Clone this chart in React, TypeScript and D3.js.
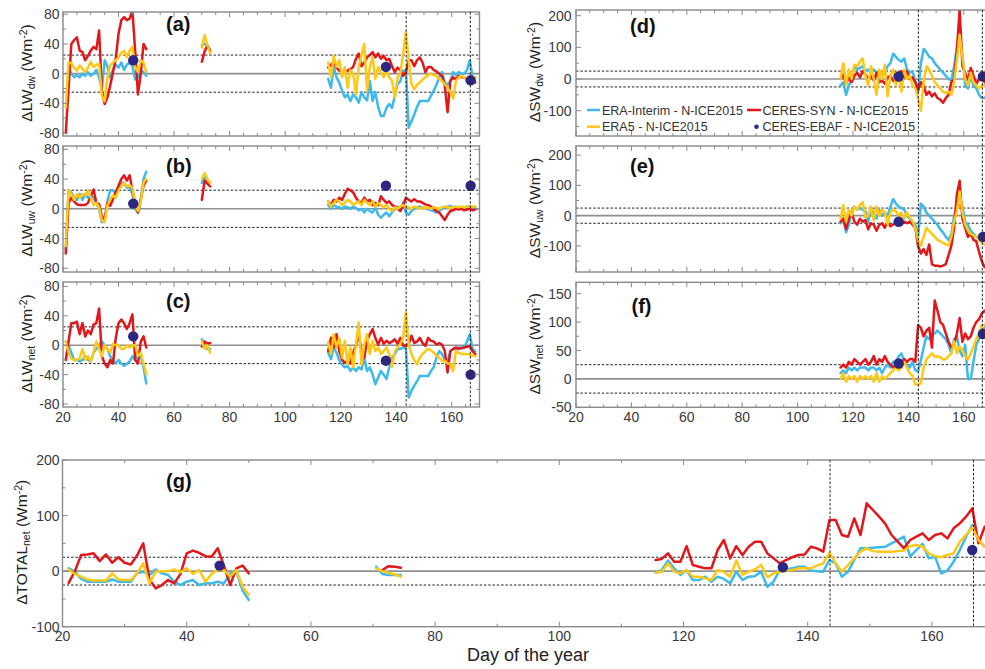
import React from "react";
import * as d3 from "d3";

// ---------- x categories (day of year) ----------
const DAYS_S1 = [21, 22, 23, 24, 25, 26, 27, 28, 29, 30, 31, 32, 33, 34, 35, 36, 37, 38, 39, 40, 41, 42, 43, 44, 45, 46, 47, 48, 49, 50];
const DAYS_S2 = [70, 71, 72, 73];
const DAYS_S3 = [115.5, 116.5, 117.5, 118.5, 119.5, 120.5, 121.5, 122.5, 123.5, 124.5, 125.5, 126.5, 127.5, 128.5, 129.5, 130.5, 131.5, 132.5, 133.5, 134.5, 135.5, 136.5, 137.5, 138.5, 139.5, 140.5, 141.5, 142.5, 143.5, 144.5, 145.5, 146.5, 147.5, 148.5, 149.5, 150.5, 151.5, 152.5, 153.5, 154.5, 155.5, 156.5, 157.5, 158.5, 159.5, 160.5, 161.5, 162.5, 163.5, 164.5, 165.5, 166.5, 167.5, 168.5];
const DAYS_G2 = [70.5, 71.5, 72.5, 73.5, 74.5];
const EBAF_DAYS_LW = [45.3, 136.3, 166.8];
const EBAF_DAYS_SW = [136.5, 166.9];
const EBAF_DAYS_G = [45.3, 136.0, 166.5];
const MARK_DAYS = [143.6, 166.7];

// ---------- (a) LW downwelling ----------
const A_ERAI_1 = [null, 8, 0, -5, -2, -5, 0, -3, 2, -3, 0, 5, -5, -20, 18, 10, -5, 5, 12, 8, 15, 5, 12, 15, 10, -8, -5, 5, 2, -3];
const A_ERA5_1 = [-46, 15, 14, 8, 4, 11, 6, 2, 8, 16, 9, 12, 13, -30, -37, -5, 11, 15, 18, 22, 28, 31, 22, 31, 36, 9, 2, 18, 15, 2];
const A_SYN_1 = [-80, -20, 40, 45, 49, 31, 29, 18, 24, 31, 36, 33, 58, -23, -41, -32, -16, 2, 20, 54, 72, 76, 72, 74, 85, 30, -28, 0, 40, 33];
const A_ERAI_2 = [38, 40, 38, 32];
const A_ERA5_2 = [35, 52, 38, 28];
const A_SYN_2 = [16, 30, 38, 30];
const A_ERAI_3 = [-7, -19, 9, -5, -12, -23, -32, -28, -37, -28, -32, -39, -25, -32, -36, -10, -37, -25, -45, -57, -57, -46, -41, -46, -30, -14, -10, 4, 4, -73, -64, -55, -45, -37, -37, -37, -37, -30, -23, -15, -5, 2, -12, -15, -10, 2, -2, 2, 0, 0, 5, 18, -5, -5];
const A_ERA5_3 = [15, -5, 24, 9, 18, -5, 9, -19, 5, 0, -28, 9, 25, 40, -23, 9, 22, -7, 9, 2, -5, 4, -5, -10, -32, -5, 0, 27, 56, 18, -14, -21, -15, -12, -8, -5, -2, 0, -2, -3, -7, -10, -14, -19, -25, -34, -10, -5, -3, -5, -8, -6, -5, -5];
const A_SYN_3 = [8, 12, 15, 8, 4, 2, 2, 4, 6, 9, 20, 27, 10, 15, 22, 25, 29, 22, 27, 20, 24, 18, 20, 10, 2, 8, 5, -3, 2, 18, 18, 10, 18, 22, 15, 2, 9, 9, 5, 3, 0, -3, -16, -52, -10, -5, -8, -3, -5, -5, -8, -5, -5, -12];
const A_EBAF = [18, 9, -9];

// ---------- (b) LW upwelling ----------
const B_ERAI_1 = [-55, 25, 22, 15, 12, 20, 12, 20, 15, 18, 15, 8, 0, -18, -15, 10, 25, 25, 20, 30, 35, 35, 28, 30, 20, 0, -5, 10, 40, 50];
const B_ERA5_1 = [-50, 25, 20, 12, 20, 15, 20, 18, 25, 15, 5, 8, 2, -15, -18, 5, 12, 18, 15, 25, 30, 35, 30, 32, 28, 5, -3, 10, 35, 40];
const B_SYN_1 = [-60, 8, 15, 10, 6, 5, 5, 5, 8, 17, 26, 8, 6, -10, -15, 8, 4, 13, 22, 31, 40, 45, 38, 45, 24, 8, -5, 13, 31, 38];
const B_ERAI_2 = [35, 45, 38, 35];
const B_ERA5_2 = [40, 48, 40, 35];
const B_SYN_2 = [12, 38, 34, 30];
const B_ERAI_3 = [5, 0, 5, 3, 2, 0, 3, 2, 0, 3, 1, -2, 0, -5, 0, -3, -5, 2, -8, -12, -8, -5, -10, -5, 0, 3, -2, 8, -5, -8, -3, 0, 2, 3, 2, 1, 0, -2, -3, -5, -3, 0, 2, 3, 4, 2, 3, 2, 0, 2, 3, 3, 2, 2];
const B_ERA5_3 = [10, 3, 8, 12, 10, 5, 8, 12, 10, 5, 8, 10, 5, 12, 8, 5, 10, 3, 8, 5, 2, 5, 0, -3, 2, 0, 3, 5, 3, 2, 0, 3, 2, 0, 2, 1, 2, 0, 2, 1, 0, 2, 3, 2, 1, 2, 3, 2, 3, 2, 3, 3, 3, 3];
const B_SYN_3 = [10, 5, 12, 10, 15, 12, 20, 27, 25, 22, 15, 10, 8, 15, 10, 12, 5, 8, 5, 17, 12, 8, 10, 5, 3, 0, -3, 5, 15, 12, 10, 13, 10, 10, 8, 6, 5, 3, 0, -3, -5, -10, -15, -8, -3, -2, 0, -1, 0, -2, -1, 0, -2, -1];
const B_EBAF = [7, 31, 31];

// ---------- (c) LW net ----------
const C_ERAI_1 = [5, 0, -10, -20, -20, -22, -20, -15, -20, -22, -10, -5, 0, 5, 0, -5, -15, -20, -25, -20, -25, -28, -25, -22, -15, -20, -10, -15, -30, -52];
const C_ERA5_1 = [5, -10, -18, -20, -20, -18, -5, -20, -15, -22, -10, 5, -5, -15, 0, -5, -10, 2, 0, 0, -5, -5, 0, -3, 0, 0, -15, -10, -25, -40];
const C_SYN_1 = [-20, 5, 30, 30, 32, 15, 30, 12, 20, 15, 28, 30, 50, -15, -25, -30, -20, -25, 10, 30, 35, 30, 22, 30, 42, -20, -25, 5, 12, -3];
const C_ERAI_2 = [8, 0, -5, -5];
const C_ERA5_2 = [5, -5, 0, -10];
const C_SYN_2 = [-2, 5, 2, 3];
const C_ERAI_3 = [-10, -19, -3, -10, -21, -26, -30, -28, -35, -30, -35, -30, -33, -17, -35, -30, -40, -53, -44, -35, -40, -46, -30, -17, -12, -5, -5, -3, -5, -71, -62, -55, -49, -42, -42, -42, -42, -35, -30, -17, -8, -12, -20, -24, -8, -5, -5, -3, -3, -3, 5, 15, -5, -8];
const C_ERA5_3 = [4, -12, 15, -3, 10, -17, 6, -26, -3, -30, 1, 31, -26, 1, 15, -12, 6, -8, -3, -12, -8, -3, -12, -30, -8, -3, 2, 10, 45, 1, -12, -20, -26, -17, -12, -8, -5, -7, -10, -14, -17, -21, -21, -25, -25, -35, -8, -10, -12, -12, -12, -13, -14, -15];
const C_SYN_3 = [-8, 10, -3, 15, -8, -20, -24, -21, -25, -10, 0, 15, -8, -17, 6, 15, 22, 10, 1, 10, 2, 6, 3, 5, 8, 2, 10, 0, -1, 2, 13, 3, 5, 10, 3, -1, 10, 6, 5, 1, 3, 1, -8, -37, -8, -5, -3, -5, -4, -3, -2, -1, -8, -12];
const C_EBAF = [12, -21, -40];

// ---------- (d) SW downwelling ----------
const D_ERAI_3 = [-20, -10, -50, -20, 0, 40, 30, 35, 40, 25, 30, 20, 30, 20, 25, 10, 20, 40, 50, 80, 70, 60, 55, 65, 30, 20, 25, -10, -40, 50, 95, 85, 70, 65, 50, 40, 30, 20, 10, 0, -5, 40, 100, 150, 80, -20, -30, 10, -20, -30, -50, -60, -60, -50];
const D_ERA5_3 = [0, 50, -20, 30, 0, 45, 40, 55, 65, 10, -20, 40, 0, -50, 30, 0, 45, -55, 10, 30, -20, 15, -40, 30, 0, 10, -20, -30, -60, -100, -10, 40, 30, 10, -10, -20, -30, -40, -45, -40, -50, -10, 60, 140, 70, 0, -20, 20, -10, -20, -30, -20, -20, -10];
const D_SYN_3 = [0, 15, -15, 5, -10, 10, 20, 5, 25, 15, 0, 10, -5, 20, -10, -5, -15, 5, 10, -5, -10, 20, 25, 5, 25, 0, 5, -10, -35, -10, -20, -50, -40, -55, -45, -60, -65, -75, -60, -50, -10, 0, 90, 220, 40, 20, -5, 35, 10, -15, 0, 5, -10, -20];
const D_EBAF = [8, 8];

// ---------- (e) SW upwelling ----------
const E_ERAI_3 = [-25, -10, -55, -30, 10, 30, 20, 25, 20, 15, -20, 25, 10, -10, 20, 0, 10, 0, 30, 55, 40, 30, 25, 20, 0, -10, -20, -30, -70, 40, 30, 10, 0, -10, -20, -30, -45, -55, -70, -80, -60, 0, 30, 35, 30, -20, -30, -50, -60, -70, -80, -80, -80, -80];
const E_ERA5_3 = [-10, 35, -20, 20, 0, 30, 20, 35, 45, -5, 0, 30, -15, 30, 0, 20, 10, -30, 10, 20, 15, 0, 10, -10, 10, -5, -20, -40, -80, -100, -70, -40, -50, -60, -70, -80, -85, -90, -95, -98, -70, -20, 15, 80, 10, -30, -50, -60, -65, -70, -80, -90, -95, -100];
const E_SYN_3 = [-20, -10, -45, -10, 10, -20, -30, -10, -20, -15, -45, -25, -30, -50, -30, -25, -40, -20, -35, -30, -20, -10, -30, -20, -25, -20, -30, -40, -100, -125, -110, -130, -95, -160, -165, -165, -168, -165, -160, -130, -100, -40, 70, 115, -10, -40, -70, -60, -80, -85, -120, -150, -170, -170];
const E_EBAF = [-20, -70];

// ---------- (f) SW net ----------
const F_ERAI_3 = [10, 15, 10, 20, 15, 20, 15, 20, 20, 20, 15, 20, 20, 15, 20, 10, 20, 25, 20, 30, 30, 40, 45, 30, 25, 20, 30, 15, 13, 33, 55, 75, 70, 80, 80, 85, 80, 75, 70, 60, 45, 70, 75, 50, 40, 60, 0, 0, 30, 60, 70, 85, 90, 95];
const F_ERA5_3 = [0, 10, -5, 5, 0, 5, -5, 5, 0, 5, 0, 5, -5, 10, -5, 5, 0, 5, 10, 15, 20, 15, 20, 30, 20, 10, 5, -10, -10, -8, 20, 34, 40, 45, 39, 40, 38, 34, 35, 40, 45, 66, 45, 57, 50, 40, 34, 45, 57, 70, 80, 95, 95, 100];
const F_SYN_3 = [20, 25, 20, 30, 25, 35, 30, 25, 30, 35, 25, 30, 40, 25, 35, 30, 40, 30, 25, 20, 25, 30, 20, 35, 30, 35, 35, 30, 95, 90, 75, 85, 90, 55, 138, 120, 100, 95, 80, 65, 55, 60, 80, 107, 65, 80, 70, 75, 90, 100, 105, 115, 120, 115];
const F_EBAF = [27, 79];

// ---------- (g) TOTAL net ----------
const G_ERAI_1 = [5, -1, -14, -19, -19, -19, -19, -15, -19, -19, -19, -4, -1, -7, 3, -4, -7, -19, -25, -19, -16, -25, -22, -22, -19, -22, -4, -1, -35, -52];
const G_ERA5_1 = [3, -5, -10, -15, -17, -17, -17, -4, -15, -16, -16, -4, 14, -22, -1, 0, 0, 3, -2, 5, -5, 2, -19, -5, 2, 2, -10, 2, -28, -43];
const G_SYN_1 = [-21, 0, 29, 30, 32, 18, 30, 15, 25, 15, 12, 28, 50, -15, -31, -25, -16, -22, -5, 32, 37, 33, 27, 26, 41, 10, -25, 5, 10, -4];
const G_ERAI_2 = [8, -5, -7, -7, -7];
const G_ERA5_2 = [5, 0, -3, -6, -10];
const G_SYN_2 = [null, 2, 9, 8, 6];
const G_ERAI_3 = [-3, 2, 19, 5, -7, 2, -16, -16, -10, -19, -10, -14, -22, -1, -16, -10, -9, -1, -28, -19, 2, 3, 5, 8, 8, 1, 0, -1, 20, 14, -10, -1, 20, 41, 41, 42, 43, 44, 50, 56, 62, 26, 38, 49, 23, 26, -4, 1, 17, 38, 62, 83, 56, 44];
const G_ERA5_3 = [-3, -1, 14, -1, -4, 2, -10, -10, -13, -16, 2, -1, -10, 19, -7, -1, 3, 11, -11, -4, -1, 1, 2, 5, 5, 5, 10, 14, 33, 14, -1, 11, 23, 35, 41, 36, 35, 35, 35, 36, 37, 45, 47, 44, 32, 27, 25, 29, 32, 53, 65, 79, 56, 44];
const G_SYN_3 = [20, 22, 32, 17, 17, 45, 11, 8, 5, 5, 38, 56, 23, 45, 29, 44, 53, 53, 32, 23, 14, 20, 25, 29, 30, 44, 41, 35, 92, 92, 65, 62, 95, 65, 122, 110, 98, 85, 65, 53, 41, 56, 62, 68, 56, 65, 68, 59, 77, 86, 98, 113, 50, 80];
const G_EBAF = [10, 7, 38];

// ---------- legend / labels ----------
const LEGEND_LABELS = ["ERA-Interim - N-ICE2015", "CERES-SYN - N-ICE2015", "ERA5 - N-ICE2015", "CERES-EBAF - N-ICE2015"];
const X_TICK_LABELS = [20, 40, 60, 80, 100, 120, 140, 160];

const FONT = "'Liberation Sans', Arial, Helvetica, sans-serif";
const COL_ERAI = "#3DB9EA";
const COL_ERA5 = "#FFC815";
const COL_SYN = "#E3171B";
const COL_EBAF = "#2E2683";

type Seg = { days: number[]; vals: (number | null)[] };
interface PanelSpec {
  key: string;
  x0: number; x1: number; y0: number; y1: number;
  dom: [number, number];
  major: number[]; minor: number[];
  xStep: number; showX: boolean; xLabelY: number; yLabelX: number;
  label: string; lx: number; ly: number;
  tMain: string; tSub: string; tx: number;
  erai: Seg[]; era5: Seg[]; syn: Seg[];
  ebafDays: number[]; ebaf: number[];
}

const segs = (a: (number | null)[] | null, b: (number | null)[] | null, c: (number | null)[]): Seg[] => {
  const out: Seg[] = [];
  if (a) out.push({ days: DAYS_S1, vals: a });
  if (b) out.push({ days: DAYS_S2, vals: b });
  out.push({ days: DAYS_S3, vals: c });
  return out;
};

function Panel({ p }: { p: PanelSpec }) {
  const x = d3.scaleLinear().domain([20, 170]).range([p.x0, p.x1]);
  const y = d3.scaleLinear().domain(p.dom).range([p.y1, p.y0]);
  const line = d3
    .line<[number, number | null]>()
    .defined((d) => d[1] !== null && d[1] !== undefined)
    .x((d) => x(d[0]))
    .y((d) => y(d[1] as number));
  const clipId = `clip-${p.key}`;
  const xt = d3.range(20, 170.01, p.xStep);
  const draw = (s: Seg[], color: string) =>
    s.map((seg, i) => (
      <path
        key={i}
        d={line(seg.days.map((d, j) => [d, seg.vals[j]] as [number, number | null])) || ""}
        fill="none"
        stroke={color}
        strokeWidth={2.5}
        strokeLinejoin="round"
        strokeLinecap="round"
      />
    ));
  const frame = "#8a8a8a";
  return (
    <g>
      <defs>
        <clipPath id={clipId}>
          <rect x={p.x0} y={p.y0} width={p.x1 - p.x0} height={p.y1 - p.y0} />
        </clipPath>
      </defs>
      <line x1={p.x0} x2={p.x1} y1={y(0)} y2={y(0)} stroke="#909090" strokeWidth={1.6} />
      {[25, -25].map((v) => (
        <line key={v} x1={p.x0} x2={p.x1} y1={y(v)} y2={y(v)} stroke="#222" strokeWidth={1} strokeDasharray="2.5,1.8" />
      ))}
      <g clipPath={`url(#${clipId})`}>
        {draw(p.erai, COL_ERAI)}
        {draw(p.syn, COL_SYN)}
        {draw(p.era5, COL_ERA5)}
        {p.ebafDays.map((d, i) => (
          <circle key={i} cx={x(d)} cy={y(p.ebaf[i])} r={5.2} fill={COL_EBAF} />
        ))}
      </g>
      <rect x={p.x0} y={p.y0} width={p.x1 - p.x0} height={p.y1 - p.y0} fill="none" stroke={frame} strokeWidth={1.4} />
      {xt.map((t) => {
        const len = t % 20 === 0 ? 5 : 3;
        return (
          <g key={t}>
            <line x1={x(t)} x2={x(t)} y1={p.y0} y2={p.y0 + len} stroke={frame} strokeWidth={1} />
            <line x1={x(t)} x2={x(t)} y1={p.y1} y2={p.y1 - len} stroke={frame} strokeWidth={1} />
          </g>
        );
      })}
      {p.major.map((v) => (
        <g key={"M" + v}>
          <line x1={p.x0} x2={p.x0 + 5} y1={y(v)} y2={y(v)} stroke={frame} strokeWidth={1} />
          <line x1={p.x1} x2={p.x1 - 5} y1={y(v)} y2={y(v)} stroke={frame} strokeWidth={1} />
          <text x={p.yLabelX} y={y(v)} dy="0.36em" textAnchor="end" fontSize={14} fill="#3a3a3a">
            {v}
          </text>
        </g>
      ))}
      {p.minor.map((v) => (
        <g key={"m" + v}>
          <line x1={p.x0} x2={p.x0 + 3} y1={y(v)} y2={y(v)} stroke={frame} strokeWidth={1} />
          <line x1={p.x1} x2={p.x1 - 3} y1={y(v)} y2={y(v)} stroke={frame} strokeWidth={1} />
        </g>
      ))}
      {p.showX &&
        X_TICK_LABELS.map((t) => (
          <text key={"xl" + t} x={x(t)} y={p.xLabelY} textAnchor="middle" fontSize={14} fill="#3a3a3a">
            {t}
          </text>
        ))}
      <text x={p.lx} y={p.ly} fontSize={20} fontWeight="bold" fill="#111">
        {p.label}
      </text>
      <text
        transform={`translate(${p.tx},${(p.y0 + p.y1) / 2 - 1}) rotate(-90)`}
        textAnchor="middle"
        fontSize={15.5}
        fill="#222"
      >
        <tspan>{"\u0394" + p.tMain}</tspan>
        <tspan fontSize={10.5} dy={3}>
          {p.tSub}
        </tspan>
        <tspan dy={-3}>{" (Wm"}</tspan>
        <tspan fontSize={10.5} dy={-5}>
          -2
        </tspan>
        <tspan dy={5}>)</tspan>
      </text>
    </g>
  );
}

export default function App() {
  const LX0 = 63, LX1 = 479.5;
  const RX0 = 576, RX1 = 991.5;
  const GX0 = 62.5, GX1 = 994;
  const lwMajor = [80, 40, 0, -40, -80];
  const lwMinor = [60, 20, -20, -60];
  const swMajor = [200, 100, 0, -100];
  const swMinor = [150, 50, -50, -150];

  const panels: PanelSpec[] = [
    {
      key: "a", x0: LX0, x1: LX1, y0: 12, y1: 136, dom: [-84, 83], major: lwMajor, minor: lwMinor,
      xStep: 5, showX: false, xLabelY: 0, yLabelX: 59.5, label: "(a)", lx: 166, ly: 31,
      tMain: "LW", tSub: "dw", tx: 32,
      erai: segs(A_ERAI_1, A_ERAI_2, A_ERAI_3), era5: segs(A_ERA5_1, A_ERA5_2, A_ERA5_3), syn: segs(A_SYN_1, A_SYN_2, A_SYN_3),
      ebafDays: EBAF_DAYS_LW, ebaf: A_EBAF,
    },
    {
      key: "b", x0: LX0, x1: LX1, y0: 146, y1: 272, dom: [-85, 84.5], major: lwMajor, minor: lwMinor,
      xStep: 5, showX: false, xLabelY: 0, yLabelX: 59.5, label: "(b)", lx: 166, ly: 173,
      tMain: "LW", tSub: "uw", tx: 32,
      erai: segs(B_ERAI_1, B_ERAI_2, B_ERAI_3), era5: segs(B_ERA5_1, B_ERA5_2, B_ERA5_3), syn: segs(B_SYN_1, B_SYN_2, B_SYN_3),
      ebafDays: EBAF_DAYS_LW, ebaf: B_EBAF,
    },
    {
      key: "c", x0: LX0, x1: LX1, y0: 282, y1: 407, dom: [-84, 86], major: lwMajor, minor: lwMinor,
      xStep: 5, showX: true, xLabelY: 421.5, yLabelX: 59.5, label: "(c)", lx: 166, ly: 308,
      tMain: "LW", tSub: "net", tx: 32,
      erai: segs(C_ERAI_1, C_ERAI_2, C_ERAI_3), era5: segs(C_ERA5_1, C_ERA5_2, C_ERA5_3), syn: segs(C_SYN_1, C_SYN_2, C_SYN_3),
      ebafDays: EBAF_DAYS_LW, ebaf: C_EBAF,
    },
    {
      key: "d", x0: RX0, x1: RX1, y0: 10, y1: 136, dom: [-180, 218], major: swMajor, minor: swMinor,
      xStep: 5, showX: false, xLabelY: 0, yLabelX: 571.5, label: "(d)", lx: 630, ly: 32.5,
      tMain: "SW", tSub: "dw", tx: 540,
      erai: segs(null, null, D_ERAI_3), era5: segs(null, null, D_ERA5_3), syn: segs(null, null, D_SYN_3),
      ebafDays: EBAF_DAYS_SW, ebaf: D_EBAF,
    },
    {
      key: "e", x0: RX0, x1: RX1, y0: 146, y1: 272, dom: [-186, 230], major: swMajor, minor: swMinor,
      xStep: 5, showX: false, xLabelY: 0, yLabelX: 571.5, label: "(e)", lx: 630, ly: 172.5,
      tMain: "SW", tSub: "uw", tx: 540,
      erai: segs(null, null, E_ERAI_3), era5: segs(null, null, E_ERA5_3), syn: segs(null, null, E_SYN_3),
      ebafDays: EBAF_DAYS_SW, ebaf: E_EBAF,
    },
    {
      key: "f", x0: RX0, x1: RX1, y0: 282.3, y1: 407.3, dom: [-50, 170], major: [150, 100, 50, 0, -50], minor: [125, 75, 25, -25],
      xStep: 5, showX: true, xLabelY: 421.5, yLabelX: 571.5, label: "(f)", lx: 631.5, ly: 312.5,
      tMain: "SW", tSub: "net", tx: 540,
      erai: segs(null, null, F_ERAI_3), era5: segs(null, null, F_ERA5_3), syn: segs(null, null, F_SYN_3),
      ebafDays: EBAF_DAYS_SW, ebaf: F_EBAF,
    },
    {
      key: "g", x0: GX0, x1: GX1, y0: 460, y1: 626.7, dom: [-100, 200], major: swMajor, minor: [150, 50, -50],
      xStep: 10, showX: true, xLabelY: 641, yLabelX: 59.5, label: "(g)", lx: 166, ly: 487.5,
      tMain: "TOTAL", tSub: "net", tx: 27,
      erai: [{ days: DAYS_S1, vals: G_ERAI_1 }, { days: DAYS_G2, vals: G_ERAI_2 }, { days: DAYS_S3, vals: G_ERAI_3 }],
      era5: [{ days: DAYS_S1, vals: G_ERA5_1 }, { days: DAYS_G2, vals: G_ERA5_2 }, { days: DAYS_S3, vals: G_ERA5_3 }],
      syn: [{ days: DAYS_S1, vals: G_SYN_1 }, { days: DAYS_G2, vals: G_SYN_2 }, { days: DAYS_S3, vals: G_SYN_3 }],
      ebafDays: EBAF_DAYS_G, ebaf: G_EBAF,
    },
  ];

  const xL = d3.scaleLinear().domain([20, 170]).range([LX0, LX1]);
  const xR = d3.scaleLinear().domain([20, 170]).range([RX0, RX1]);
  const xG = d3.scaleLinear().domain([20, 170]).range([GX0, GX1]);

  const vlines = [
    { sc: xL, y0: 12, y1: 407 },
    { sc: xR, y0: 10, y1: 407.3 },
    { sc: xG, y0: 460, y1: 626.7 },
  ];

  return (
    <svg
      width={985}
      height={669}
      style={{ position: "absolute", left: 0, top: 0, display: "block" }}
      fontFamily={FONT}
    >
      <rect width={985} height={669} fill="#fff" />
      {panels.map((p) => (
        <Panel key={p.key} p={p} />
      ))}
      {vlines.map((v, i) =>
        MARK_DAYS.map((d) => (
          <line
            key={i + "-" + d}
            x1={v.sc(d)}
            x2={v.sc(d)}
            y1={v.y0}
            y2={v.y1}
            stroke="#222"
            strokeWidth={1}
            strokeDasharray="2.5,1.8"
          />
        ))
      )}
      {/* legend in panel (d) */}
      <g fontSize={12.5} fill="#333">
        <line x1={587} x2={600} y1={110} y2={110} stroke={COL_ERAI} strokeWidth={2.5} />
        <text x={602} y={114.5}>{LEGEND_LABELS[0]}</text>
        <line x1={747} x2={761} y1={110} y2={110} stroke={COL_SYN} strokeWidth={2.5} />
        <text x={762.5} y={114.5}>{LEGEND_LABELS[1]}</text>
        <line x1={587} x2={600} y1={126.7} y2={126.7} stroke={COL_ERA5} strokeWidth={2.5} />
        <text x={602} y={131}>{LEGEND_LABELS[2]}</text>
        <circle cx={756.5} cy={126.7} r={2.3} fill={COL_EBAF} />
        <text x={762.5} y={131}>{LEGEND_LABELS[3]}</text>
      </g>
      <text x={528} y={661} textAnchor="middle" fontSize={18} fill="#222">
        Day of the year
      </text>
    </svg>
  );
}
